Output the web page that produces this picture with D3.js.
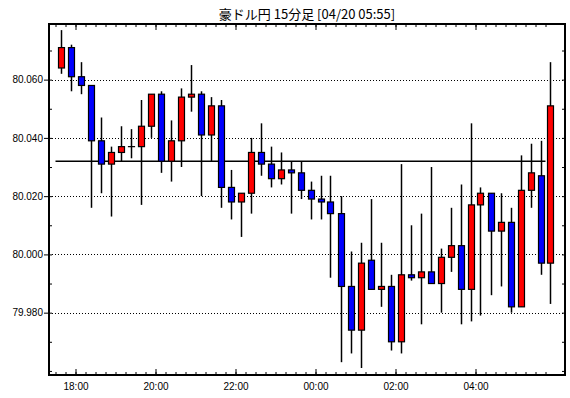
<!DOCTYPE html>
<html>
<head>
<meta charset="utf-8">
<script src="https://cdn.jsdelivr.net/npm/d3@7"></script>
<style>
  body { margin: 0; background: #fff; }
  text { font-family: "Liberation Sans", Arial, sans-serif; }
</style>
</head>
<body>
<div id="canvas"></div>
<script>
const times = [
  "04/19 17:30","04/19 17:45","04/19 18:00","04/19 18:15","04/19 18:30","04/19 18:45",
  "04/19 19:00","04/19 19:15","04/19 19:30","04/19 19:45","04/19 20:00","04/19 20:15",
  "04/19 20:30","04/19 20:45","04/19 21:00","04/19 21:15","04/19 21:30","04/19 21:45",
  "04/19 22:00","04/19 22:15","04/19 22:30","04/19 22:45","04/19 23:00","04/19 23:15",
  "04/19 23:30","04/19 23:45","04/20 00:00","04/20 00:15","04/20 00:30","04/20 00:45",
  "04/20 01:00","04/20 01:15","04/20 01:30","04/20 01:45","04/20 02:00","04/20 02:15",
  "04/20 02:30","04/20 02:45","04/20 03:00","04/20 03:15","04/20 03:30","04/20 03:45",
  "04/20 04:00","04/20 04:15","04/20 04:30","04/20 04:45","04/20 05:00","04/20 05:15",
  "04/20 05:30","04/20 05:45"
];
const open = [80.064,80.071,80.061,80.058,80.039,80.031,80.035,80.037,80.037,80.044,
  80.055,80.032,80.039,80.054,80.055,80.041,80.051,80.023,80.018,80.021,
  80.035,80.031,80.026,80.029,80.028,80.022,80.019,80.018,80.014,79.989,
  79.974,79.998,79.988,79.989,79.970,79.993,79.992,79.994,79.990,79.999,
  80.003,79.988,80.017,80.021,80.008,80.011,79.982,80.022,80.027,79.997];
const high = [80.077,80.072,80.066,80.058,80.047,80.037,80.044,80.043,80.053,80.055,
  80.056,80.046,80.057,80.065,80.056,80.054,80.053,80.029,80.021,80.040,
  80.045,80.037,80.035,80.032,80.032,80.025,80.027,80.027,80.020,80.001,
  80.004,80.019,80.004,79.993,80.031,80.010,80.014,80.030,80.002,80.016,
  80.024,80.045,80.023,80.021,80.021,80.016,80.034,80.038,80.039,80.066];
const low = [80.062,80.056,80.055,80.016,80.021,80.013,80.032,80.033,80.017,80.040,
  80.028,80.025,80.030,80.049,80.020,80.032,80.016,80.012,80.006,80.014,
  80.027,80.023,80.024,80.014,80.019,80.012,80.012,79.992,79.963,79.966,
  79.961,79.988,79.982,79.967,79.966,79.991,79.976,79.990,79.980,79.994,
  79.976,79.977,79.979,79.986,79.989,79.980,79.982,80.016,79.993,79.983];
const close = [80.071,80.061,80.058,80.039,80.031,80.035,80.037,80.037,80.044,80.055,
  80.032,80.039,80.054,80.055,80.041,80.051,80.023,80.018,80.021,80.035,
  80.031,80.026,80.029,80.028,80.022,80.019,80.018,80.014,79.989,79.974,
  79.997,79.988,79.989,79.970,79.993,79.992,79.994,79.990,79.999,80.003,
  79.988,80.017,80.021,80.008,80.011,79.982,80.022,80.028,79.997,80.051];
const refLevel = 80.032;
const yTicks = [79.98, 80.00, 80.02, 80.04, 80.06];
const yMinor = [79.96, 79.97, 79.98, 79.99, 80.00, 80.01, 80.02, 80.03, 80.04, 80.05, 80.06, 80.07];
const title = "豪ドル円 15分足 [04/20 05:55]";

const width = 570;
const height = 398;
const pLeft = 49, pRight = 565, pTop = 24, pBottom = 375;

const parse = d3.timeParse("%m/%d %H:%M");
const data = times.map((t, i) => ({
  t: parse(t), o: open[i], h: high[i], l: low[i], c: close[i]
}));
const step = 15 * 60 * 1000;

const svg = d3.select("#canvas").append("svg")
  .attr("width", width)
  .attr("height", height);

// slot starts sit on the ticks, candles are centred between them
const x = d3.scaleTime()
  .domain([data[0].t, data[data.length - 1].t])
  .range([55.5, 545.5]);
const y = d3.scaleLinear()
  .domain([79.9586, 80.0791])
  .range([pBottom, pTop]);

svg.append("text")
  .attr("x", (pLeft + pRight) / 2)
  .attr("y", 19)
  .attr("text-anchor", "middle")
  .style("font-family", "'Noto Sans CJK JP', sans-serif")
  .style("font-size", "13px")
  .text(title);

// dotted grid
svg.append("g").selectAll("line").data(yTicks).enter().append("line")
  .attr("x1", pLeft).attr("x2", pRight)
  .attr("y1", d => Math.round(y(d)) + 0.5)
  .attr("y2", d => Math.round(y(d)) + 0.5)
  .attr("stroke", "#000")
  .attr("stroke-dasharray", "1,2");

// reference line
svg.append("line")
  .attr("x1", x(data[0].t)).attr("x2", x(data[data.length - 1].t))
  .attr("y1", y(refLevel)).attr("y2", y(refLevel))
  .attr("stroke", "#000")
  .attr("stroke-width", 1.5);

const cx = d => Math.round(x(new Date(+d.t + step / 2))) + 0.5;

const candles = svg.append("g").selectAll("g").data(data).enter().append("g");
candles.append("line")
  .attr("x1", cx).attr("x2", cx)
  .attr("y1", d => y(d.h))
  .attr("y2", d => y(d.l))
  .attr("stroke", "#000")
  .attr("stroke-width", 1.5);
candles.append("rect")
  .attr("x", d => cx(d) - 3)
  .attr("width", 6)
  .attr("y", d => y(Math.max(d.o, d.c)))
  .attr("height", d => Math.max(Math.abs(y(d.o) - y(d.c)), 0.01))
  .style("fill", d => d.c >= d.o ? "#ff0000" : "#0000ff")
  .attr("stroke", "#000")
  .attr("stroke-width", 1.2);

// axes
const quarter = d3.timeMinute.every(15);
const twoHours = d3.timeHour.every(2);
const fmt = d3.timeFormat("%H:%M");

function clean(g) {
  g.select(".domain").remove();
  g.selectAll("line").attr("stroke", "#000");
  g.selectAll("text").style("font-size", "10px").attr("fill", "#000");
}

svg.append("g").attr("transform", `translate(0,${pBottom})`)
  .call(d3.axisBottom(x).ticks(quarter).tickSize(-3).tickFormat("")).call(clean);
svg.append("g").attr("transform", `translate(0,${pBottom})`)
  .call(d3.axisBottom(x).ticks(twoHours).tickSize(-6).tickPadding(8).tickFormat(fmt)).call(clean);
svg.append("g").attr("transform", `translate(0,${pTop})`)
  .call(d3.axisTop(x).ticks(quarter).tickSize(-3).tickFormat("")).call(clean);
svg.append("g").attr("transform", `translate(0,${pTop})`)
  .call(d3.axisTop(x).ticks(twoHours).tickSize(-6).tickFormat("")).call(clean);

svg.append("g").attr("transform", `translate(${pLeft},0)`)
  .call(d3.axisLeft(y).tickValues(yMinor).tickSize(-3).tickFormat("")).call(clean);
svg.append("g").attr("transform", `translate(${pLeft},0)`)
  .call(d3.axisLeft(y).tickValues(yTicks).tickSize(5).tickPadding(1).tickFormat(d3.format(".3f"))).call(clean);
svg.append("g").attr("transform", `translate(${pRight},0)`)
  .call(d3.axisRight(y).tickValues(yMinor).tickSize(-3).tickFormat("")).call(clean);

// frame
svg.append("rect")
  .attr("x", pLeft).attr("y", pTop)
  .attr("width", pRight - pLeft).attr("height", pBottom - pTop)
  .attr("fill", "none")
  .attr("stroke", "#000")
  .attr("stroke-width", 2);
</script>
</body>
</html>
